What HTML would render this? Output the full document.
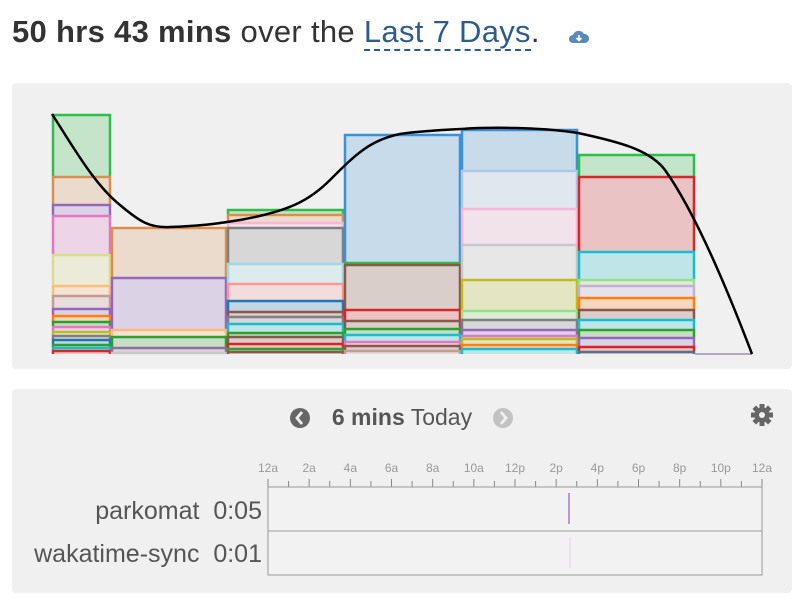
<!DOCTYPE html>
<html><head><meta charset="utf-8"><style>
body{margin:0;width:800px;height:604px;background:#fff;font-family:"Liberation Sans",sans-serif;position:relative;overflow:hidden}
.hd{position:absolute;left:12px;top:14px;font-size:31px;color:#333;white-space:nowrap;letter-spacing:0.3px}
.hd b{font-weight:bold}
.hd .l{color:#2d5b8e;border-bottom:2px dashed #2d5b8e}
.p{position:absolute;left:12px;width:780px;background:#f0f0f0;border-radius:4px}
</style></head><body>
<div class="hd"><b>50 hrs 43 mins</b> over the <span class="l">Last 7 Days</span>.</div>
<svg style="position:absolute;left:568px;top:28px" width="22" height="18" viewBox="0 0 22 18"><path d="M5 15a4 4 0 0 1 0-8a6 6 0 0 1 11-1a4.5 4.5 0 0 1 1 9z" fill="#5b8ab8"/><path d="M11 7v5M8.5 10l2.5 2.5 2.5-2.5" stroke="#fff" stroke-width="1.6" fill="none"/></svg>
<div class="p" style="top:83px;height:286px"></div>
<div class="p" style="top:389px;height:204px"></div>
<svg id="c" style="position:absolute;left:0;top:0" width="800" height="604"></svg>
<div style="position:absolute;left:0;width:800px;top:404px;text-align:center;font-size:23px;color:#555;padding-left:2px"><b style="color:#555">6 mins</b> Today</div>
<div style="position:absolute;right:538px;top:497px;font-size:25px;color:#555;white-space:nowrap">parkomat&nbsp; 0:05</div>
<div style="position:absolute;right:538px;top:540px;font-size:25px;color:#555;white-space:nowrap">wakatime-sync&nbsp; 0:01</div>
<script>
const cols=[
[52,111,[[114,'#2ebd48'],[176,'#d9904f'],[204,'#9467bd'],[215,'#e377c2'],[254,'#dbdb8d'],[285,'#ffbb78'],[295,'#c49c94'],[308,'#9467bd'],[315,'#ff7f0e'],[321,'#2ca02c'],[326,'#e377c2'],[331,'#bcbd22'],[335,'#7f7f7f'],[339,'#1f77b4'],[344,'#2ca02c'],[347,'#17becf'],[350,'#d62728']]],
[111,227,[[227,'#d9904f'],[277,'#9467bd'],[329,'#ffbb78'],[336,'#2ca02c'],[347,'#8c6d9b'],[352,'#c7c7c7']]],
[227,344,[[209,'#2ebd48'],[214,'#d9904f'],[222,'#f7b6d2'],[227,'#7f7f7f'],[263,'#9edae5'],[283,'#ff9896'],[300,'#1f77b4'],[311,'#8c564b'],[316,'#7f7f7f'],[323,'#17becf'],[332,'#2ca02c'],[336,'#8c564b'],[343,'#d62728'],[348,'#2ca02c'],[351,'#8c564b']]],
[344,461,[[134,'#3a91d6'],[262,'#2ebd48'],[264,'#8c564b'],[309,'#d62728'],[320,'#8c564b'],[328,'#2ca02c'],[334,'#17becf'],[341,'#e377c2'],[345,'#8c564b'],[350,'#c49c94']]],
[461,578,[[129,'#3a91d6'],[170,'#aec7e8'],[208,'#f7b6d2'],[244,'#c7c7c7'],[279,'#bcbd22'],[310,'#98df8a'],[319,'#7f7f7f'],[329,'#9467bd'],[335,'#e377c2'],[338,'#bcbd22'],[344,'#ff7f0e'],[348,'#17becf']]],
[578,695,[[154,'#2ebd48'],[176,'#d62728'],[251,'#17becf'],[279,'#98df8a'],[285,'#c5b0d5'],[297,'#ff7f0e'],[309,'#8c564b'],[319,'#17becf'],[329,'#2ca02c'],[337,'#9467bd'],[346,'#d62728'],[351,'#5a6f8a']]]];
let s='';const B=354;
for(const [x0,x1,segs] of cols){for(let i=0;i<segs.length;i++){const [t,c]=segs[i];const b=i+1<segs.length?segs[i+1][0]:B;
s+=`<rect x="${x0}" y="${t}" width="${x1-x0}" height="${b-t}" fill="${c}" fill-opacity="0.22"/>`;
s+=`<path d="M${x0+1} ${b}V${t+1}H${x1-1}V${b}" stroke="${c}" stroke-width="2.5" fill="none"/>`;}}
s+=`<line x1="695" y1="354" x2="752" y2="354" stroke="#b0a8c0" stroke-width="2"/>`;
s+=`<path d="M52 114C75 150 95 185 120 205C140 222 150 228 170 227C200 226 215 224 240 220C290 211 310 200 330 180C355 155 370 140 400 134C420 131 440 130 461 129C490 127 540 127 578 133C620 142 650 150 665 170C690 205 720 270 752 354" stroke="#000" stroke-width="2.5" fill="none"/>`;
s+=`<circle cx="300" cy="418" r="10" fill="#666"/><path d="M302 412l-5 6 5 6" stroke="#f0f0f0" stroke-width="2.8" fill="none"/>`;
s+=`<circle cx="503" cy="418" r="10" fill="#c2c2c2"/><path d="M501 412l5 6-5 6" stroke="#f0f0f0" stroke-width="2.8" fill="none"/>`;
let g='';for(let i=0;i<8;i++){g+=`<rect x="-2.5" y="-11" width="5" height="6" fill="#666" transform="rotate(${i*45})"/>`;}
s+=`<g transform="translate(762,415)">${g}<circle r="7.5" fill="#666"/><circle r="3" fill="#f0f0f0"/></g>`;
const lab=['12a','2a','4a','6a','8a','10a','12p','2p','4p','6p','8p','10p','12a'];
const X0=268,X1=762,W=X1-X0;
for(let i=0;i<=24;i++){const x=X0+W*i/24;s+=`<line x1="${x}" y1="${i%2?481:479}" x2="${x}" y2="487" stroke="#888" stroke-width="1"/>`;}
lab.forEach((l,i)=>{s+=`<text x="${X0+W*i/12}" y="472" font-size="12" fill="#999" text-anchor="middle" font-family="Liberation Sans">${l}</text>`;});
s+=`<line x1="${X0}" y1="487" x2="${X1}" y2="487" stroke="#888"/>`;
s+=`<rect x="${X0}" y="487" width="${W}" height="44" fill="#f2f2f2" stroke="#999"/><rect x="${X0}" y="531" width="${W}" height="44" fill="#f2f2f2" stroke="#999"/>`;
s+=`<line x1="569" y1="493" x2="569" y2="524" stroke="#b59bd0" stroke-width="2"/><line x1="570" y1="537" x2="570" y2="568" stroke="#eadcea" stroke-width="1.5"/>`;
document.getElementById('c').innerHTML=s;
</script>
</body></html>
